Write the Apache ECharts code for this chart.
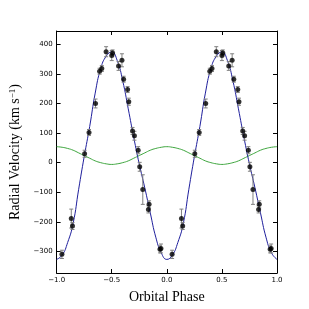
<!DOCTYPE html>
<html><head><meta charset="utf-8">
<script src="https://cdn.jsdelivr.net/npm/echarts@6/dist/echarts.min.js"></script>
<style>html,body{margin:0;padding:0;background:#fff}#c{width:309px;height:309px}</style>
</head><body><div id="c"></div>
<script>
// Model radial-velocity curve, phase -1..1
const curvePhase = [-1.00,-0.95,-0.90,-0.85,-0.80,-0.75,-0.70,-0.65,-0.60,-0.55,-0.50,-0.45,-0.40,-0.35,-0.30,-0.25,-0.20,-0.15,-0.10,-0.05,
  0.00,0.05,0.10,0.15,0.20,0.25,0.30,0.35,0.40,0.45,0.50,0.55,0.60,0.65,0.70,0.75,0.80,0.85,0.90,0.95,1.00];
const curveVel = [-327,-313,-270,-205,-90,20,122,235,318,360,374,345,276,182,85,-5,-85,-170,-252,-305,
  -327,-313,-270,-205,-90,20,122,235,318,360,374,345,276,182,85,-5,-85,-170,-252,-305,-327];
// Second (green) curve
const greenVel = [54,52,48,42,33,24,15,6,0,-4,-6,-4,0,6,15,24,33,42,48,52,
  54,52,48,42,33,24,15,6,0,-4,-6,-4,0,6,15,24,33,42,48,52,54];
// Observed data points: phase, velocity, error
const obsPhase = [-0.952,-0.867,-0.856,-0.746,-0.706,-0.647,-0.610,-0.590,-0.551,-0.500,-0.492,-0.438,-0.407,-0.392,-0.356,-0.345,-0.311,-0.294,-0.260,-0.246,-0.218,-0.161,-0.167,-0.062,-0.053,
  0.048,0.133,0.144,0.254,0.294,0.353,0.390,0.410,0.449,0.500,0.508,0.562,0.593,0.608,0.644,0.655,0.689,0.706,0.740,0.754,0.782,0.839,0.833,0.938,0.947];
const obsVel = [-310,-189,-214,30,102,200,309,318,375,362,371,327,346,282,247,206,107,91,42,-14,-91,-141,-158,-293,-290,
  -310,-189,-214,30,102,200,309,318,375,362,371,327,346,282,247,206,107,91,42,-14,-91,-141,-158,-293,-290];
const obsErr = [14,32,12,12,10,15,10,10,17,17,10,15,22,10,10,12,12,15,12,15,50,12,12,12,15,
  14,32,12,12,10,15,10,10,17,17,10,15,22,10,10,12,12,15,12,15,50,12,12,12,15];
const xTicks = [-1.0,-0.5,0.0,0.5,1.0];
const yTicks = [-300,-200,-100,0,100,200,300,400];

const fmtMinus = s => String(s).replace('-', '\u2212');
const curveData = curvePhase.map((p,i)=>[p,curveVel[i]]);
const greenData = curvePhase.map((p,i)=>[p,greenVel[i]]);
const obsData = obsPhase.map((p,i)=>[p,obsVel[i],obsErr[i]]);

const tickStyle = {inside:true, length:4, lineStyle:{color:'#000', width:1}};
const lineStyle = {show:true, onZero:false, lineStyle:{color:'#000', width:1}};
const labelFont = {fontFamily:'DejaVu Sans', fontSize:7, color:'#000'};

const chart = echarts.init(document.getElementById('c'), null, {renderer:'canvas'});
chart.setOption({
  animation:false,
  backgroundColor:'#fff',
  grid:{left:40, right:32, top:31, bottom:32, containLabel:false},
  xAxis:[{
    type:'value', min:-1.0, max:1.0, position:'bottom',
    axisLine:lineStyle, splitLine:{show:false},
    axisTick:Object.assign({customValues:xTicks}, tickStyle),
    axisLabel:Object.assign({customValues:xTicks, margin:4, formatter:v=>fmtMinus(v.toFixed(1))}, labelFont),
    name:'Orbital Phase', nameLocation:'middle', nameGap:17,
    nameTextStyle:{fontFamily:'Liberation Serif', fontSize:14, color:'#000'}
  },{
    type:'value', min:-1.0, max:1.0, position:'top',
    axisLine:lineStyle, splitLine:{show:false},
    axisTick:Object.assign({customValues:xTicks}, tickStyle),
    axisLabel:{show:false}
  }],
  yAxis:[{
    type:'value', min:-373, max:445, position:'left',
    axisLine:lineStyle, splitLine:{show:false},
    axisTick:Object.assign({customValues:yTicks}, tickStyle),
    axisLabel:Object.assign({customValues:yTicks, margin:4, formatter:v=>fmtMinus(v)}, labelFont),
    name:'Radial Velocity (km s{sup|\u22121})', nameLocation:'middle', nameGap:27,
    nameTextStyle:{fontFamily:'Liberation Serif', fontSize:14, color:'#000',
      rich:{sup:{fontFamily:'Liberation Serif', fontSize:9, verticalAlign:'top', padding:[0,0,6,0], color:'#000'}}}
  },{
    type:'value', min:-373, max:445, position:'right',
    axisLine:lineStyle, splitLine:{show:false},
    axisTick:Object.assign({customValues:yTicks}, tickStyle),
    axisLabel:{show:false}
  }],
  series:[
    {type:'line', data:greenData, smooth:true, symbol:'none', lineStyle:{color:'#3da53d', width:1}, z:2},
    {type:'line', data:curveData, smooth:true, symbol:'none', lineStyle:{color:'#1f1f9c', width:1}, z:3},
    {type:'custom', data:obsData, z:4, encode:{x:0,y:1},
      renderItem:function(params, api){
        const x=api.value(0), y=api.value(1), e=api.value(2);
        const t=api.coord([x,y+e]), b=api.coord([x,y-e]);
        const w=2;
        const st={stroke:'#808080', lineWidth:1};
        return {type:'group', children:[
          {type:'line', shape:{x1:t[0],y1:t[1],x2:b[0],y2:b[1]}, style:st},
          {type:'line', shape:{x1:t[0]-w,y1:t[1],x2:t[0]+w,y2:t[1]}, style:st},
          {type:'line', shape:{x1:b[0]-w,y1:b[1],x2:b[0]+w,y2:b[1]}, style:st}
        ]};
      }},
    {type:'scatter', data:obsData.map(d=>[d[0],d[1]]), symbol:'circle', symbolSize:5,
      itemStyle:{color:'#000'}, z:5}
  ]
});
</script></body></html>
